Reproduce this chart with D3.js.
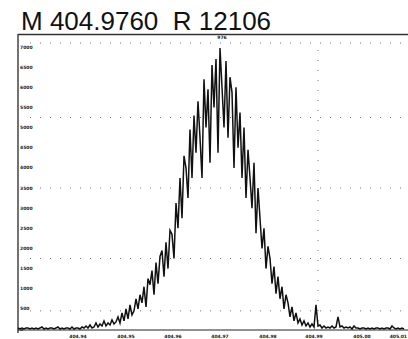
<!DOCTYPE html>
<html><head><meta charset="utf-8">
<script src="https://cdn.jsdelivr.net/npm/d3@7"></script>
<style>body{margin:0;background:#fff}svg{display:block}</style>
</head><body>
<svg id="c" width="408" height="339"></svg>
<script>
const title = "M 404.9760  R 12106";
const intensity = [25,0,25,0,25,25,0,25,0,25,0,25,50,0,25,0,25,25,0,25,50,0,25,0,25,25,0,50,0,25,25,0,50,25,75,25,100,25,50,150,50,125,75,200,75,150,100,225,125,175,300,150,400,200,500,250,
  600,350,450,750,500,850,650,1050,550,1250,1100,1450,850,1650,1125,1800,1950,1300,2150,1500,2450,2350,1750,3125,2500,3750,2750,4300,4000,3250,4950,3750,5300,4375,5650,4750,3750,6200,5000,5950,4125,6550,5500,6700,4375,6975,6000,5000,6650,4750,6250,5875,4000,6000,4500,5375,3750,5000,3250,4450,3750,3000,4125,2375,3500,2750,2000,2500,1500,2050,1750,1125,1550,875,1300,750,1050,500,850,650,300,550,200,400,150,
  250,100,200,75,150,50,125,50,600,75,100,25,75,25,50,25,75,25,50,300,50,75,25,50,25,50,0,75,25,25,0,25,25,0,25,0,25,0,25,25,0,25,0,25,25,0,75,25,0,25,0,25,0];
const yTicks = [0,500,1000,1500,2000,2500,3000,3500,4000,4500,5000,5500,6000,6500,7000];
const xTickPos = [30,54,77.5,101,125,148,172,195];
const xTickLabels = ["404.94","404.95","404.96","404.97","404.98","404.99","405.00","405.01"];
const yGrid = [450,1750,3500,5250,7100];
const xGrid = [150];
const topMarkLabel = "976";

const svg = d3.select("#c");
const x = d3.scaleLinear().domain([0, intensity.length-1]).range([18, 404]);
const y = d3.scaleLinear().domain([0, 7000]).range([329, 47]);

svg.append("text").attr("x",21).attr("y",30)
  .attr("font-family","Liberation Sans, Arial, sans-serif").attr("font-size",26)
  .attr("fill","#111").style("white-space","pre").text(title);

svg.append("g").selectAll("line").data(yGrid).join("line")
  .attr("x1",30).attr("x2",408).attr("y1",d=>y(d)).attr("y2",d=>y(d))
  .attr("stroke","#777").attr("stroke-width",1).attr("stroke-dasharray","1,9");
svg.append("g").selectAll("line").data(xGrid).join("line")
  .attr("x1",d=>x(d)).attr("x2",d=>x(d)).attr("y1",50).attr("y2",325)
  .attr("stroke","#777").attr("stroke-width",1).attr("stroke-dasharray","1,9");

svg.append("line").attr("x1",18).attr("x2",408).attr("y1",34.5).attr("y2",34.5).attr("stroke","#333").attr("stroke-width",1.5);
svg.append("line").attr("x1",18).attr("x2",18).attr("y1",34).attr("y2",333).attr("stroke","#444").attr("stroke-width",1.5);
svg.append("line").attr("x1",18).attr("x2",408).attr("y1",330).attr("y2",330).attr("stroke","#222").attr("stroke-width",1);

svg.append("g").selectAll("text").data(yTicks).join("text")
  .attr("x",20).attr("y",d=>y(d)+1.5)
  .attr("font-family","DejaVu Sans, sans-serif").attr("font-size",4.5).attr("font-weight","bold")
  .attr("fill","#222").text(d=>d);

svg.append("g").selectAll("text").data(xTickPos).join("text")
  .attr("x",d=>Math.min(x(d),407)).attr("y",338)
  .attr("text-anchor",(d,i)=>i===xTickPos.length-1?"end":"middle")
  .attr("font-family","DejaVu Sans, sans-serif").attr("font-size",4.5).attr("font-weight","bold")
  .attr("fill","#222").text((d,i)=>xTickLabels[i]);

svg.append("text").attr("x",x(101)+2).attr("y",39).attr("text-anchor","middle")
  .attr("font-family","DejaVu Sans, sans-serif").attr("font-size",4.5).attr("font-weight","bold")
  .attr("fill","#222").text(topMarkLabel);

const line = d3.line().x((d,i)=>x(i)).y(d=>y(d));
svg.append("path").datum(intensity).attr("d",line)
  .attr("fill","none").attr("stroke","#111").attr("stroke-width",1.5).attr("stroke-linejoin","miter");
</script>
</body></html>
